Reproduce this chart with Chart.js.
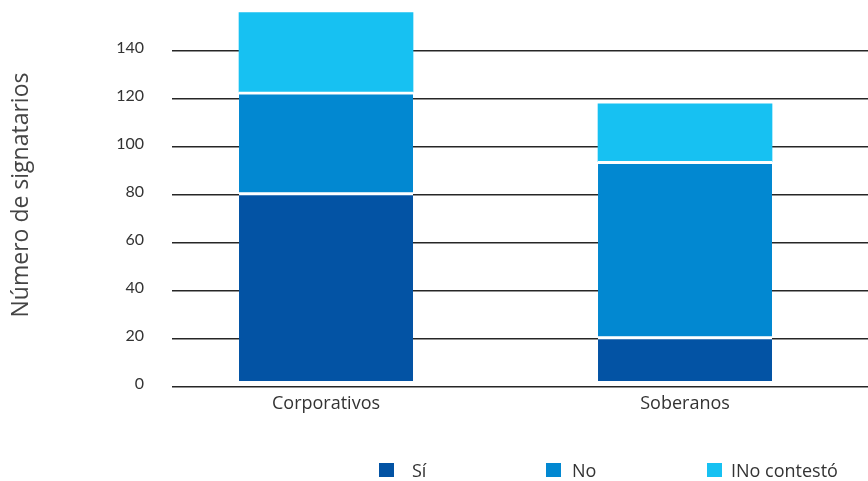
<!DOCTYPE html>
<html>
<head>
<meta charset="utf-8">
<script src="https://cdn.jsdelivr.net/npm/chart.js@4"></script>
<style>
  body { margin: 0; background: #fff; }
  #wrap { position: relative; width: 868px; height: 481px; }
  #legend { position: absolute; left: 0; top: 460px; width: 868px; height: 20px;
    font-family: "Open Sans", sans-serif; font-size: 18px; color: #333; }
  .item { position: absolute; top: 0; display: flex; align-items: center; height: 20px; }
  .box { width: 15px; height: 14px; display: inline-block; }
</style>
</head>
<body>
<div id="wrap">
  <canvas id="myChart" width="868" height="481"></canvas>
  <div id="legend"></div>
</div>
<script>
const categories = ['Corporativos', 'Soberanos'];
const seriesNames = ['Sí', 'No', 'INo contestó'];
const siValues = [81, 21];
const noValues = [42, 73];
const noContestoValues = [33, 24];
const yTicks = [0, 20, 40, 60, 80, 100, 120, 140];

const colors = ['#0353A4', '#0288D1', '#17C1F2'];
const allValues = [siValues, noValues, noContestoValues];

const ctx = document.getElementById('myChart');

const datasets = allValues.map(function (vals, k) {
  return {
    label: seriesNames[k],
    data: vals.map(function (v, i) { return { x: i, y: v }; }),
    backgroundColor: colors[k],
    borderColor: '#ffffff',
    borderWidth: k < 2 ? { top: 3, left: 0, right: 0, bottom: 0 } : 0,
    barThickness: 174,
    base: k === 0 ? 2.5 : undefined
  };
});

const myChart = new Chart(ctx, {
  type: 'bar',
  data: { datasets: datasets },
  options: {
    responsive: false,
    animation: false,
    layout: { padding: { top: 3, right: 0, left: 0, bottom: 0 } },
    plugins: {
      legend: { display: false },
      tooltip: { enabled: false }
    },
    scales: {
      x: {
        type: 'linear',
        stacked: true,
        offset: false,
        min: -0.429,
        max: 1.5097,
        grid: { display: false, drawTicks: false },
        border: { display: false },
        afterBuildTicks: function (scale) {
          scale.ticks = categories.map(function (c, i) { return { value: i }; });
        },
        afterFit: function (scale) {
          scale.height = 94;
          scale.paddingLeft = 0;
          scale.paddingRight = 0;
        },
        ticks: {
          padding: 6,
          color: '#333',
          font: { family: 'Open Sans', size: 18 },
          callback: function (v) { return categories[v]; }
        }
      },
      y: {
        stacked: true,
        min: 0,
        max: 160,
        afterBuildTicks: function (scale) {
          scale.ticks = yTicks.map(function (v) { return { value: v }; });
        },
        afterFit: function (scale) {
          scale.width = 172;
          scale.paddingTop = 0;
          scale.paddingBottom = 0;
        },
        grid: { color: '#262626', lineWidth: 1.6, drawTicks: false },
        border: { display: false },
        ticks: {
          padding: 28,
          labelOffset: -3,
          color: '#333',
          font: { family: 'Lato', size: 16 }
        },
        title: {
          display: true,
          text: 'Número de signatarios',
          color: '#444',
          font: { family: 'Open Sans', size: 23 },
          padding: { top: 8, bottom: 0 }
        }
      }
    }
  }
});

// leyenda
const legendPos = [379, 546, 707];
const textGap = [18, 11, 9];
const legend = document.getElementById('legend');
seriesNames.forEach(function (name, k) {
  const item = document.createElement('div');
  item.className = 'item';
  item.style.left = legendPos[k] + 'px';
  const box = document.createElement('span');
  box.className = 'box';
  box.style.background = colors[k];
  box.style.marginRight = textGap[k] + 'px';
  const txt = document.createElement('span');
  txt.textContent = name;
  item.appendChild(box);
  item.appendChild(txt);
  legend.appendChild(item);
});
</script>
</body>
</html>
